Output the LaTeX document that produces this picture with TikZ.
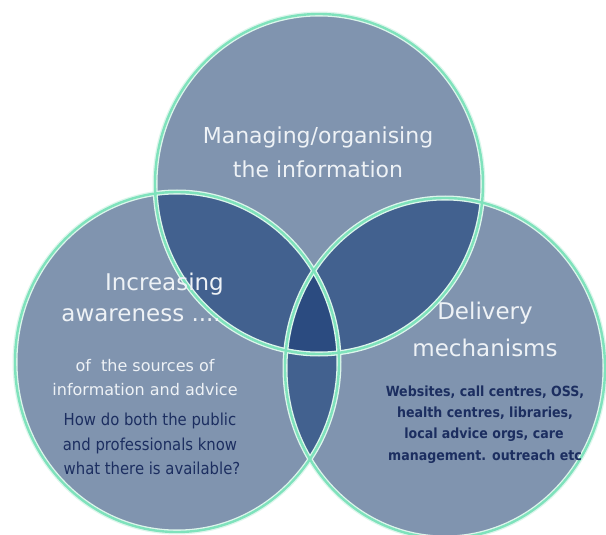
\documentclass[tikz,border=0pt]{standalone}
\usepackage{fontspec}
\setmainfont{DejaVu Sans}
\newfontfamily\condfont{DejaVu Sans Condensed}
\definecolor{vsingle}{HTML}{8094AF}
\definecolor{vdouble}{HTML}{42618F}
\definecolor{vtriple}{HTML}{2B4B80}
\definecolor{rimgreen}{HTML}{7FE2BC}
\definecolor{halo}{HTML}{DDF6EC}
\definecolor{lighttext}{HTML}{EEF2F6}
\definecolor{darktext}{HTML}{1C2E60}
\begin{document}
\begin{tikzpicture}[x=1pt,y=-1pt,
  toptitle/.style={text=lighttext,font=\fontsize{22}{26}\selectfont,align=center,inner sep=0pt},
  title/.style={text=lighttext,font=\fontsize{23}{27}\selectfont,align=center,inner sep=0pt},
  sub/.style={text=lighttext,font=\fontsize{16}{18}\selectfont,align=center,inner sep=0pt},
  darkbody/.style={text=darktext,font=\condfont\fontsize{16.5}{18}\selectfont,align=center,inner sep=0pt},
  darkbodyb/.style={text=darktext,font=\condfont\bfseries\fontsize{14}{16}\selectfont,align=center,inner sep=0pt}]
\useasboundingbox (0,0) rectangle (606,535);
\def\Top{(319,184) ellipse [x radius=164pt, y radius=170pt]}
\def\Lft{(177,362) ellipse [x radius=162pt, y radius=170pt]}
\def\Rgt{(445,368) ellipse [x radius=160pt, y radius=170pt]}
% single fills
\fill[vsingle] \Top;
\fill[vsingle] \Lft;
\fill[vsingle] \Rgt;
% pair overlaps
\begin{scope}\clip \Top; \fill[vdouble] \Lft; \fill[vdouble] \Rgt; \end{scope}
\begin{scope}\clip \Lft; \fill[vdouble] \Rgt; \end{scope}
% triple overlap
\begin{scope}\clip \Top; \clip \Lft; \fill[vtriple] \Rgt; \end{scope}
% rims
\foreach \c in {\Top,\Lft,\Rgt}{
  \draw[halo,line width=5pt] \c;
}
\foreach \c in {\Top,\Lft,\Rgt}{
  \draw[rimgreen,line width=2.4pt] \c;
}
% texts
\node[toptitle] (t1) at (318,137) {Managing/organising};
\node[toptitle] (t2) at (318,169) {the information};
\node[title,anchor=east] (l1) at (224,284) {Increasing};
\node[title,anchor=east] (l2) at (221,315) {awareness ....};
\node[sub] (l3) at (145,366) {of\ \ the sources of};
\node[sub] (l4) at (145,390) {information and advice};
\node[darkbody] (l5) at (150,421) {How do both the public};
\node[darkbody] (l6) at (150,446) {and professionals know};
\node[darkbody] (l7) at (152,468) {what there is available?};
\node[title] (r1) at (485,313) {Delivery};
\node[title] (r2) at (485,348) {mechanisms};
\node[darkbodyb] (r3) at (485,392) {Websites, call centres, OSS,};
\node[darkbodyb] (r4) at (485,413) {health centres, libraries,};
\node[darkbodyb] (r5) at (484,435) {local advice orgs, care};
\node[darkbodyb] (r6) at (485,457) {management. outreach etc};
\end{tikzpicture}
\end{document}
